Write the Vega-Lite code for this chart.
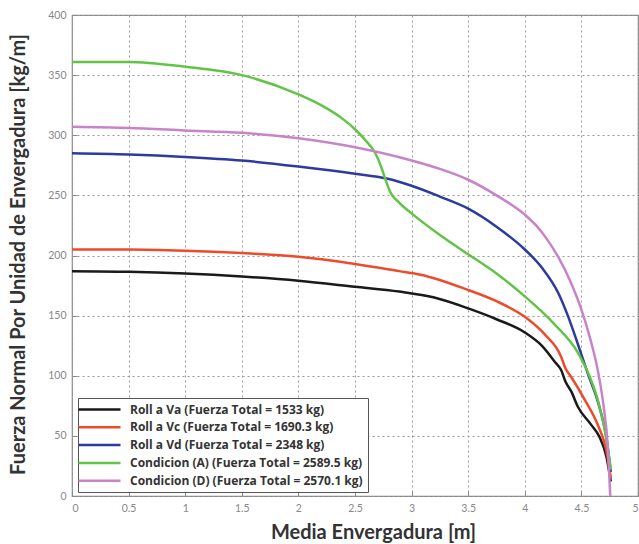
{
  "$schema": "https://vega.github.io/schema/vega-lite/v6.json",
  "width": 566,
  "height": 481,
  "autosize": {"type": "none"},
  "padding": {"left": 72, "top": 15, "right": 1, "bottom": 48},
  "background": "white",
  "config": {
    "view": {"stroke": "#888888", "strokeWidth": 1.2},
    "axis": {
      "grid": true,
      "gridColor": "#999999",
      "gridDash": [2, 3],
      "gridWidth": 1,
      "gridOpacity": 1,
      "domain": false,
      "ticks": true,
      "tickSize": -5,
      "tickColor": "#888888",
      "labelFont": "Lato",
      "labelFontSize": 10.5,
      "labelColor": "#888888",
      "titleFont": "Lato",
      "titleFontWeight": "bold",
      "titleColor": "#333333"
    }
  },
  "data": {
    "values": [
      {"s": "Roll a Va (Fuerza Total = 1533 kg)", "x": 0, "y": 187},
      {"s": "Roll a Va (Fuerza Total = 1533 kg)", "x": 0.5, "y": 186.5},
      {"s": "Roll a Va (Fuerza Total = 1533 kg)", "x": 1, "y": 185},
      {"s": "Roll a Va (Fuerza Total = 1533 kg)", "x": 1.5, "y": 182.5},
      {"s": "Roll a Va (Fuerza Total = 1533 kg)", "x": 2, "y": 179},
      {"s": "Roll a Va (Fuerza Total = 1533 kg)", "x": 2.5, "y": 174},
      {"s": "Roll a Va (Fuerza Total = 1533 kg)", "x": 2.89, "y": 170},
      {"s": "Roll a Va (Fuerza Total = 1533 kg)", "x": 3.2, "y": 165},
      {"s": "Roll a Va (Fuerza Total = 1533 kg)", "x": 3.5, "y": 156},
      {"s": "Roll a Va (Fuerza Total = 1533 kg)", "x": 3.75, "y": 147},
      {"s": "Roll a Va (Fuerza Total = 1533 kg)", "x": 4.0, "y": 136},
      {"s": "Roll a Va (Fuerza Total = 1533 kg)", "x": 4.15, "y": 125},
      {"s": "Roll a Va (Fuerza Total = 1533 kg)", "x": 4.27, "y": 111},
      {"s": "Roll a Va (Fuerza Total = 1533 kg)", "x": 4.32, "y": 105},
      {"s": "Roll a Va (Fuerza Total = 1533 kg)", "x": 4.36, "y": 95},
      {"s": "Roll a Va (Fuerza Total = 1533 kg)", "x": 4.41, "y": 87},
      {"s": "Roll a Va (Fuerza Total = 1533 kg)", "x": 4.47, "y": 74},
      {"s": "Roll a Va (Fuerza Total = 1533 kg)", "x": 4.58, "y": 60},
      {"s": "Roll a Va (Fuerza Total = 1533 kg)", "x": 4.66, "y": 49},
      {"s": "Roll a Va (Fuerza Total = 1533 kg)", "x": 4.72, "y": 33},
      {"s": "Roll a Va (Fuerza Total = 1533 kg)", "x": 4.76, "y": 12},
      {"s": "Roll a Vc (Fuerza Total = 1690.3 kg)", "x": 0, "y": 205},
      {"s": "Roll a Vc (Fuerza Total = 1690.3 kg)", "x": 0.5, "y": 205},
      {"s": "Roll a Vc (Fuerza Total = 1690.3 kg)", "x": 1, "y": 204},
      {"s": "Roll a Vc (Fuerza Total = 1690.3 kg)", "x": 1.5, "y": 202},
      {"s": "Roll a Vc (Fuerza Total = 1690.3 kg)", "x": 2, "y": 199},
      {"s": "Roll a Vc (Fuerza Total = 1690.3 kg)", "x": 2.5, "y": 193},
      {"s": "Roll a Vc (Fuerza Total = 1690.3 kg)", "x": 2.89, "y": 187},
      {"s": "Roll a Vc (Fuerza Total = 1690.3 kg)", "x": 3.08, "y": 184},
      {"s": "Roll a Vc (Fuerza Total = 1690.3 kg)", "x": 3.48, "y": 172},
      {"s": "Roll a Vc (Fuerza Total = 1690.3 kg)", "x": 3.75, "y": 162},
      {"s": "Roll a Vc (Fuerza Total = 1690.3 kg)", "x": 4.0, "y": 149},
      {"s": "Roll a Vc (Fuerza Total = 1690.3 kg)", "x": 4.18, "y": 134},
      {"s": "Roll a Vc (Fuerza Total = 1690.3 kg)", "x": 4.32, "y": 116},
      {"s": "Roll a Vc (Fuerza Total = 1690.3 kg)", "x": 4.36, "y": 106},
      {"s": "Roll a Vc (Fuerza Total = 1690.3 kg)", "x": 4.41, "y": 99},
      {"s": "Roll a Vc (Fuerza Total = 1690.3 kg)", "x": 4.53, "y": 80},
      {"s": "Roll a Vc (Fuerza Total = 1690.3 kg)", "x": 4.65, "y": 58},
      {"s": "Roll a Vc (Fuerza Total = 1690.3 kg)", "x": 4.72, "y": 38},
      {"s": "Roll a Vc (Fuerza Total = 1690.3 kg)", "x": 4.76, "y": 15},
      {"s": "Roll a Vd (Fuerza Total = 2348 kg)", "x": 0, "y": 285},
      {"s": "Roll a Vd (Fuerza Total = 2348 kg)", "x": 0.5, "y": 284},
      {"s": "Roll a Vd (Fuerza Total = 2348 kg)", "x": 1, "y": 282},
      {"s": "Roll a Vd (Fuerza Total = 2348 kg)", "x": 1.5, "y": 279},
      {"s": "Roll a Vd (Fuerza Total = 2348 kg)", "x": 2, "y": 274},
      {"s": "Roll a Vd (Fuerza Total = 2348 kg)", "x": 2.5, "y": 268},
      {"s": "Roll a Vd (Fuerza Total = 2348 kg)", "x": 2.78, "y": 264},
      {"s": "Roll a Vd (Fuerza Total = 2348 kg)", "x": 3.0, "y": 258},
      {"s": "Roll a Vd (Fuerza Total = 2348 kg)", "x": 3.25, "y": 249},
      {"s": "Roll a Vd (Fuerza Total = 2348 kg)", "x": 3.5, "y": 239},
      {"s": "Roll a Vd (Fuerza Total = 2348 kg)", "x": 3.75, "y": 224},
      {"s": "Roll a Vd (Fuerza Total = 2348 kg)", "x": 4.0, "y": 205},
      {"s": "Roll a Vd (Fuerza Total = 2348 kg)", "x": 4.15, "y": 190},
      {"s": "Roll a Vd (Fuerza Total = 2348 kg)", "x": 4.3, "y": 168},
      {"s": "Roll a Vd (Fuerza Total = 2348 kg)", "x": 4.38, "y": 150},
      {"s": "Roll a Vd (Fuerza Total = 2348 kg)", "x": 4.47, "y": 126},
      {"s": "Roll a Vd (Fuerza Total = 2348 kg)", "x": 4.56, "y": 101},
      {"s": "Roll a Vd (Fuerza Total = 2348 kg)", "x": 4.65, "y": 77},
      {"s": "Roll a Vd (Fuerza Total = 2348 kg)", "x": 4.72, "y": 49},
      {"s": "Roll a Vd (Fuerza Total = 2348 kg)", "x": 4.76, "y": 20},
      {"s": "Condicion (A) (Fuerza Total = 2589.5 kg)", "x": 0, "y": 361},
      {"s": "Condicion (A) (Fuerza Total = 2589.5 kg)", "x": 0.5, "y": 361},
      {"s": "Condicion (A) (Fuerza Total = 2589.5 kg)", "x": 1, "y": 357},
      {"s": "Condicion (A) (Fuerza Total = 2589.5 kg)", "x": 1.5, "y": 350},
      {"s": "Condicion (A) (Fuerza Total = 2589.5 kg)", "x": 2, "y": 334},
      {"s": "Condicion (A) (Fuerza Total = 2589.5 kg)", "x": 2.2, "y": 325},
      {"s": "Condicion (A) (Fuerza Total = 2589.5 kg)", "x": 2.4, "y": 313},
      {"s": "Condicion (A) (Fuerza Total = 2589.5 kg)", "x": 2.5, "y": 305},
      {"s": "Condicion (A) (Fuerza Total = 2589.5 kg)", "x": 2.6, "y": 295},
      {"s": "Condicion (A) (Fuerza Total = 2589.5 kg)", "x": 2.68, "y": 285},
      {"s": "Condicion (A) (Fuerza Total = 2589.5 kg)", "x": 2.73, "y": 274},
      {"s": "Condicion (A) (Fuerza Total = 2589.5 kg)", "x": 2.77, "y": 263},
      {"s": "Condicion (A) (Fuerza Total = 2589.5 kg)", "x": 2.81, "y": 253},
      {"s": "Condicion (A) (Fuerza Total = 2589.5 kg)", "x": 2.89, "y": 244},
      {"s": "Condicion (A) (Fuerza Total = 2589.5 kg)", "x": 3.0, "y": 235},
      {"s": "Condicion (A) (Fuerza Total = 2589.5 kg)", "x": 3.25, "y": 217},
      {"s": "Condicion (A) (Fuerza Total = 2589.5 kg)", "x": 3.5, "y": 201},
      {"s": "Condicion (A) (Fuerza Total = 2589.5 kg)", "x": 3.75, "y": 185},
      {"s": "Condicion (A) (Fuerza Total = 2589.5 kg)", "x": 4.0, "y": 166},
      {"s": "Condicion (A) (Fuerza Total = 2589.5 kg)", "x": 4.25, "y": 144},
      {"s": "Condicion (A) (Fuerza Total = 2589.5 kg)", "x": 4.47, "y": 119},
      {"s": "Condicion (A) (Fuerza Total = 2589.5 kg)", "x": 4.57, "y": 100},
      {"s": "Condicion (A) (Fuerza Total = 2589.5 kg)", "x": 4.65, "y": 78},
      {"s": "Condicion (A) (Fuerza Total = 2589.5 kg)", "x": 4.72, "y": 48},
      {"s": "Condicion (A) (Fuerza Total = 2589.5 kg)", "x": 4.76, "y": 22},
      {"s": "Condicion (D) (Fuerza Total = 2570.1 kg)", "x": 0, "y": 307},
      {"s": "Condicion (D) (Fuerza Total = 2570.1 kg)", "x": 0.5, "y": 306},
      {"s": "Condicion (D) (Fuerza Total = 2570.1 kg)", "x": 1, "y": 304},
      {"s": "Condicion (D) (Fuerza Total = 2570.1 kg)", "x": 1.5, "y": 302},
      {"s": "Condicion (D) (Fuerza Total = 2570.1 kg)", "x": 2, "y": 297.5},
      {"s": "Condicion (D) (Fuerza Total = 2570.1 kg)", "x": 2.5, "y": 290},
      {"s": "Condicion (D) (Fuerza Total = 2570.1 kg)", "x": 3.0, "y": 279},
      {"s": "Condicion (D) (Fuerza Total = 2570.1 kg)", "x": 3.25, "y": 272},
      {"s": "Condicion (D) (Fuerza Total = 2570.1 kg)", "x": 3.5, "y": 263},
      {"s": "Condicion (D) (Fuerza Total = 2570.1 kg)", "x": 3.75, "y": 250},
      {"s": "Condicion (D) (Fuerza Total = 2570.1 kg)", "x": 4.0, "y": 234},
      {"s": "Condicion (D) (Fuerza Total = 2570.1 kg)", "x": 4.1, "y": 225},
      {"s": "Condicion (D) (Fuerza Total = 2570.1 kg)", "x": 4.2, "y": 213},
      {"s": "Condicion (D) (Fuerza Total = 2570.1 kg)", "x": 4.3, "y": 198},
      {"s": "Condicion (D) (Fuerza Total = 2570.1 kg)", "x": 4.4, "y": 179},
      {"s": "Condicion (D) (Fuerza Total = 2570.1 kg)", "x": 4.5, "y": 155},
      {"s": "Condicion (D) (Fuerza Total = 2570.1 kg)", "x": 4.58, "y": 130},
      {"s": "Condicion (D) (Fuerza Total = 2570.1 kg)", "x": 4.65, "y": 102},
      {"s": "Condicion (D) (Fuerza Total = 2570.1 kg)", "x": 4.7, "y": 72},
      {"s": "Condicion (D) (Fuerza Total = 2570.1 kg)", "x": 4.73, "y": 45},
      {"s": "Condicion (D) (Fuerza Total = 2570.1 kg)", "x": 4.755, "y": 0}
    ]
  },
  "mark": {"type": "line", "strokeWidth": 2.5, "clip": true, "interpolate": "monotone"},
  "encoding": {
    "x": {
      "field": "x",
      "type": "quantitative",
      "scale": {"domain": [0, 5], "nice": false},
      "axis": {
        "values": [0, 0.5, 1, 1.5, 2, 2.5, 3, 3.5, 4, 4.5, 5],
        "format": "~g",
        "title": "Media Envergadura [m]",
        "titleFontSize": 20,
        "labelPadding": 12,
        "titleX": 301,
        "titleY": 42,
        "titleAlign": "center",
        "titleBaseline": "alphabetic"
      }
    },
    "y": {
      "field": "y",
      "type": "quantitative",
      "scale": {"domain": [0, 400], "nice": false},
      "axis": {
        "values": [0, 50, 100, 150, 200, 250, 300, 350, 400],
        "title": "Fuerza Normal Por Unidad de Envergadura [kg/m]",
        "titleFontSize": 20,
        "labelPadding": 11,
        "titleX": -54,
        "titleY": 239,
        "titleAlign": "center",
        "titleBaseline": "middle",
        "titleAngle": -90
      }
    },
    "color": {
      "field": "s",
      "type": "nominal",
      "scale": {
        "domain": [
          "Roll a Va (Fuerza Total = 1533 kg)",
          "Roll a Vc (Fuerza Total = 1690.3 kg)",
          "Roll a Vd (Fuerza Total = 2348 kg)",
          "Condicion (A) (Fuerza Total = 2589.5 kg)",
          "Condicion (D) (Fuerza Total = 2570.1 kg)"
        ],
        "range": ["#1a1a1a", "#ee4a2c", "#2b3b9e", "#62c447", "#c983c9"]
      },
      "legend": {
        "title": null,
        "orient": "none",
        "legendX": 6,
        "legendY": 383,
        "fillColor": "white",
        "strokeColor": "#555555",
        "padding": 5,
        "symbolType": "M-4.2,0H4.2",
        "symbolSize": 100,
        "symbolStrokeWidth": 2.5,
        "symbolOffset": 10,
        "labelFont": "Open Sans",
        "labelFontWeight": "bold",
        "labelFontSize": 12,
        "labelColor": "#333333",
        "labelLimit": 400,
        "rowPadding": 4.8,
        "labelOffset": 24
      }
    }
  }
}
